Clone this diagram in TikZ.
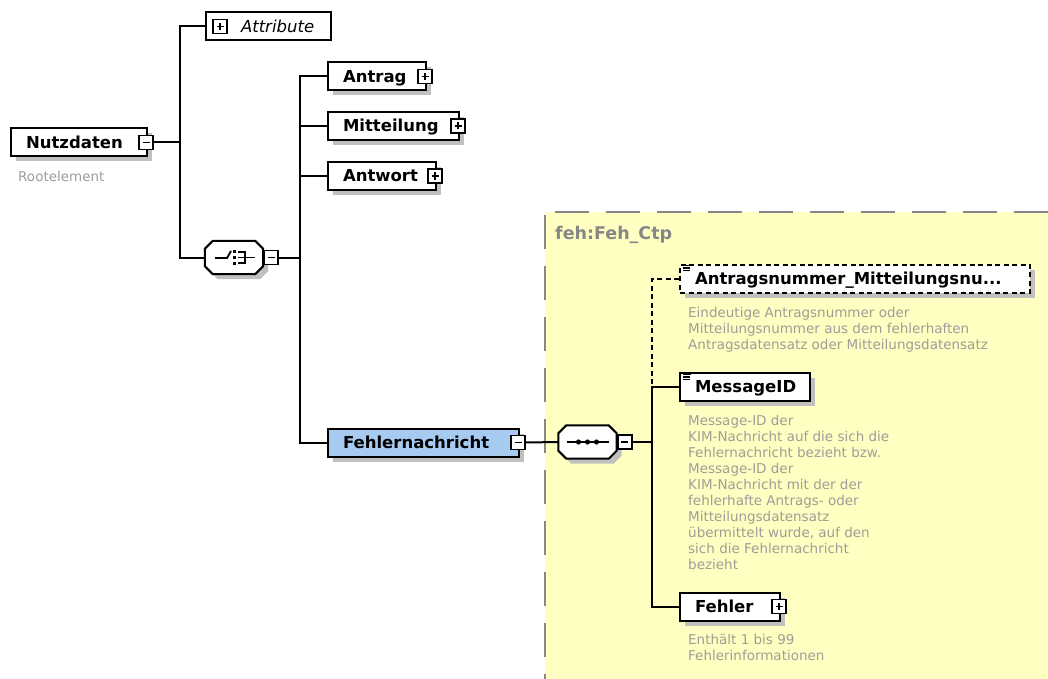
\documentclass[tikz,border=0pt]{standalone}
\usepackage{fontspec}
\setmainfont{DejaVu Sans}
\usetikzlibrary{shadows,calc}
\definecolor{bgyellow}{RGB}{255,255,194}
\definecolor{blueel}{RGB}{166,202,240}
\definecolor{desccol}{RGB}{160,156,152}
\definecolor{shadecol}{RGB}{192,192,192}
\definecolor{framegray}{RGB}{135,135,135}
\newcommand\lbox[2]{\makebox[#1][l]{#2}}
\newcommand\octo[3]{([shift={(8+#2,#3)}]#1.north west) -- ([shift={(-8+#2,#3)}]#1.north east) -- ([shift={(#2,8+#3)}]#1.north east) -- ([shift={(#2,-8+#3)}]#1.south east) -- ([shift={(-8+#2,#3)}]#1.south east) -- ([shift={(8+#2,#3)}]#1.south west) -- ([shift={(#2,-8+#3)}]#1.south west) -- ([shift={(#2,8+#3)}]#1.north west) -- cycle}
\begin{document}
\begin{tikzpicture}[x=1pt,y=-1pt,
  every node/.style={inner sep=0pt},
  conn/.style={line width=2pt},
  dashconn/.style={line width=2pt, dash pattern=on 5pt off 3.5pt},
  boxshadow/.style={drop shadow={shadow xshift=5pt, shadow yshift=-5pt, fill=shadecol, opacity=1}},
  elem/.style={draw=black, line width=2pt, fill=white, anchor=west, minimum height=28pt,
    inner xsep=15pt, inner ysep=0pt, text height=12pt, text depth=0pt,
    font=\fontsize{16.5}{19}\selectfont\bfseries, boxshadow},
  attrbox/.style={draw=black, line width=2pt, fill=white, anchor=west, minimum height=28pt,
    inner sep=0pt, text height=12pt, text depth=0pt, font=\fontsize{16.5}{19}\selectfont\itshape},
  signbox/.style={draw=black, line width=1.7pt, fill=white, minimum size=14pt, inner sep=0pt},
  minusbox/.style={signbox, path picture={\draw[line width=1.8pt] ([xshift=3.5pt]path picture bounding box.west) -- ([xshift=-3.5pt]path picture bounding box.east);}},
  plusbox/.style={signbox, path picture={\draw[line width=1.8pt] ([xshift=3.5pt]path picture bounding box.west) -- ([xshift=-3.5pt]path picture bounding box.east) ([yshift=3.5pt]path picture bounding box.south) -- ([yshift=-3.5pt]path picture bounding box.north);}},
  comp/.style={minimum width=58pt, minimum height=33pt, inner sep=0pt},
  descr/.style={font=\fontsize{13.5}{16}\selectfont, text=desccol, align=left, anchor=base west, inner sep=0pt},
  octline/.style={line width=2pt, fill=white},
  icon/.style={line width=1.8pt},
  listicon/.style={line width=1.3pt}
]
\useasboundingbox (0,0) rectangle (1048,679);
\fill[white] (0,0) rectangle (1048,679);
% yellow complex type region
\fill[bgyellow] (545,212) rectangle (1048,679);
\draw[framegray, line width=2pt, dash pattern=on 34pt off 17pt, dash phase=41pt] (545,212) -- (1048,212);
\draw[framegray, line width=2pt, dash pattern=on 34pt off 17pt, dash phase=48pt] (545,212) -- (545,679);
\node[font=\fontsize{17.5}{20}\selectfont\bfseries, text=framegray, anchor=base west] (ctp) at (555,239.5) {feh:Feh\_Ctp};

% root
\node[elem] (nutz) at (10,142.5) {\lbox{106pt}{Nutzdaten}};
\node[minusbox] (nutzm) at ([xshift=-2pt]nutz.east) {};
\node[descr] (rootd) at (18,181.5) {Rootelement};

% attributes
\node[attrbox] (attr) at (205,26.5) {\makebox[125pt][l]{\hspace*{35pt}Attribute}};
\node[plusbox] (attrp) at ([xshift=15pt]attr.west) {};

% choice compositor
\node[comp] (choice) at (234,257.5) {};
\fill[shadecol] \octo{choice}{5}{5};
\draw[octline] \octo{choice}{0}{0};
\begin{scope}[shift={(choice.center)}]
  \draw[icon] (-19,0.5) -- (-7,0.5) -- (-3,-6.5);
  \fill (-0.8,-7.3) rectangle (1.8,-4.7);
  \fill (-0.8,-1.3) rectangle (1.8,1.3);
  \fill (-0.8,4.7) rectangle (1.8,7.3);
  \draw[icon] (4,-5.5) -- (11,-5.5) -- (11,5.5) -- (4,5.5);
  \draw[icon] (4,0) -- (21,0);
\end{scope}
\node[minusbox] (choicem) at ([xshift=8pt]choice.east) {};

% children of choice
\node[elem] (antrag) at (327,76.5) {\lbox{68pt}{Antrag}};
\node[plusbox] (antragp) at ([xshift=-2pt]antrag.east) {};
\node[elem] (mitt) at (327,126) {\lbox{101pt}{Mitteilung}};
\node[plusbox] (mittp) at ([xshift=-2pt]mitt.east) {};
\node[elem] (antw) at (327,176) {\lbox{78pt}{Antwort}};
\node[plusbox] (antwp) at ([xshift=-2pt]antw.east) {};
\node[elem, fill=blueel] (fnach) at (327,442.5) {\lbox{161pt}{Fehlernachricht}};
\node[minusbox] (fnachm) at ([xshift=-2pt]fnach.east) {};

% sequence compositor
\node[comp] (seq) at (587.5,442) {};
\fill[shadecol] \octo{seq}{5}{5};
\draw[octline] \octo{seq}{0}{0};
\begin{scope}[shift={(seq.center)}]
  \draw[icon] (-21,0) -- (21,0);
  \fill (-9,0) circle (2.6);
  \fill (0,0) circle (2.6);
  \fill (9,0) circle (2.6);
\end{scope}
\node[minusbox] (seqm) at ([xshift=8pt]seq.east) {};

% children of sequence
\node[elem, dash pattern=on 5pt off 3.5pt] (antnr) at (679,278.5) {\lbox{320pt}{Antragsnummer\_Mitteilungsnu...}};
\draw[listicon] ([shift={(4,2)}]antnr.north west) -- ([shift={(12,2)}]antnr.north west)
  ([shift={(4,4.5)}]antnr.north west) -- ([shift={(11,4.5)}]antnr.north west)
  ([shift={(4,7)}]antnr.north west) -- ([shift={(11,7)}]antnr.north west);
\node[descr] (antnrd) at (688,349.5) {Eindeutige Antragsnummer oder\\Mitteilungsnummer aus dem fehlerhaften\\Antragsdatensatz oder Mitteilungsdatensatz};

\node[elem] (msg) at (679,386.5) {\lbox{100pt}{MessageID}};
\draw[listicon] ([shift={(4,3)}]msg.north west) -- ([shift={(12,3)}]msg.north west)
  ([shift={(4,5.5)}]msg.north west) -- ([shift={(11,5.5)}]msg.north west)
  ([shift={(4,8)}]msg.north west) -- ([shift={(11,8)}]msg.north west);
\node[descr] (msgd) at (688,569.5) {Message-ID der\\KIM-Nachricht auf die sich die\\Fehlernachricht bezieht bzw.\\Message-ID der\\KIM-Nachricht mit der der\\fehlerhafte Antrags- oder\\Mitteilungsdatensatz\\übermittelt wurde, auf den\\sich die Fehlernachricht\\bezieht};

\node[elem] (fehler) at (679,606.5) {\lbox{70pt}{Fehler}};
\node[plusbox] (fehlerp) at ([xshift=-2pt]fehler.east) {};
\node[descr] (fehlerd) at (688,660.5) {Enthält 1 bis 99\\Fehlerinformationen};

% connectors
\coordinate (t1) at (180,142.5);
\coordinate (t2) at (300,257.5);
\coordinate (t3) at (652,442);
\draw[conn] (nutzm.east) -- (t1);
\draw[conn] (attr.west) -| (t1) |- (choice.west);
\draw[conn] (choicem.east) -- (t2);
\draw[conn] (antrag.west) -| (t2) |- (fnach.west);
\draw[conn] (mitt.west) -- (mitt.west -| t2);
\draw[conn] (antw.west) -- (antw.west -| t2);
\draw[conn] (fnachm.east) -- (seq.west);
\draw[conn] (seqm.east) -- (t3);
\draw[conn] (msg.west) -| (t3) |- (fehler.west);
\draw[dashconn] (antnr.west) -| (msg.west -| t3);
\end{tikzpicture}
\end{document}
